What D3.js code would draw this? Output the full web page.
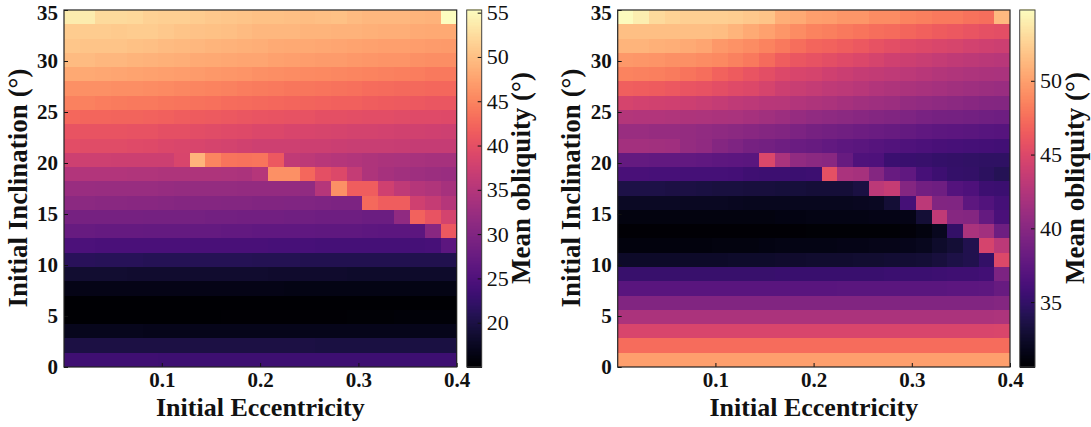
<!DOCTYPE html>
<html><head><meta charset="utf-8">
<script src="https://cdn.jsdelivr.net/npm/d3@7"></script>
<style>html,body{margin:0;padding:0;background:#fff}svg{display:block}text{font-family:"Liberation Serif",serif;fill:#111}</style>
</head><body><svg id="c" width="1091" height="427"></svg>
<script>
const xTicks=[0.1,0.2,0.3,0.4];
const yTicks=[0,5,10,15,20,25,30,35];
const barTicksLeft=[20,25,30,35,40,45,50,55];
const barTicksRight=[35,40,45,50];
const barDomainLeft=[15,55.3];
const barDomainRight=[30.6,54.8];
const xLabel="Initial Eccentricity", yLabel="Initial Inclination (°)", barLabel="Mean obliquity (°)";
// rows listed top (i≈35°) to bottom (i≈0°), columns e≈0 to e≈0.4
const obliquityLeft=[
[53.8,53.8,52.3,52.2,52,51.5,51.3,51.3,51,50.7,50.5,50.3,50,50,49.8,49.7,49.8,50,49.5,49.3,49.3,49.2,49,48.8,55.3],
[51,51,51,50.8,51,51,50.7,50.3,50.2,50,49.8,49.5,49.2,49.2,49.3,49,49,48.8,48.8,48.6,48.4,48.4,48.2,48,48],
[50.5,50.4,50.3,50.3,50,49.8,49.6,49.4,49.2,49,48.8,48.6,48.4,48.2,48,48,47.8,47.6,47.5,47.3,47.2,47.2,47,46.8,46.7],
[49.5,49.5,49.3,49.2,49,48.8,48.6,48.4,48.2,48,47.8,47.7,47.6,47.4,47.2,47,46.9,46.8,46.6,46.4,46.3,46.2,46,45.8,45.7],
[48,48,47.8,47.7,47.5,47.4,47.2,47,46.8,46.6,46.4,46.2,46,45.8,45.6,45.4,45.3,45.2,45,44.8,44.6,44.5,44.3,44.1,44],
[46,46,45.9,45.8,45.7,45.6,45.4,45.2,45,44.8,44.6,44.4,44.2,44,43.8,43.7,43.6,43.4,43.2,43,42.8,42.7,42.6,42.5,42.4],
[44.6,44.6,44.4,44.2,44,44,43.8,43.6,43.4,43.2,43,42.8,42.6,42.4,42.3,42.2,42,41.9,41.8,41.6,41.4,41.2,41,40.8,40.7],
[42.4,42.3,42.3,42.2,42.1,42,41.8,41.6,41.4,41.2,41,40.8,40.6,40.4,40.3,40.2,40,39.9,39.8,39.7,39.6,39.5,39.4,39.3,39.2],
[40.5,40.5,40.4,40.4,40.3,40.2,40,39.9,39.7,39.5,39.3,39.1,38.9,38.8,38.6,38.5,38.4,38.2,38.1,38,37.9,37.8,37.7,37.6,37.5],
[39.6,39.5,39.5,39.5,39.4,39.2,38.9,38.7,38.5,38.2,38,37.8,37.5,37.5,37.4,37.3,37.2,37.1,37,37,36.9,36.8,36.7,36.7,36.6],
[37.5,37.4,37.4,37.3,37.2,37.2,37.2,38.5,49,45,43.6,43.4,43.6,41,36.2,35.8,35.4,35,34.8,34.5,34.2,34,33.8,33.6,33.6],
[34.8,34.8,34.7,34.7,34.6,34.6,34.5,34.5,34.4,34.4,34.3,34.2,35,46,46,42.5,40,39,36.5,34.5,33.6,33.2,32.8,32.5,32.4],
[32.4,32.4,32.3,32.3,32.2,32.2,32.1,32,32,31.9,31.9,31.8,31.8,31.7,31.7,31.6,35,46,41.5,41.5,37.6,36,35,34.6,33.7],
[30.9,30.9,30.8,30.8,30.7,30.6,30.5,30.4,30.3,30.3,30.2,30.2,30,30,29.9,29.8,29.7,29.6,29.6,42.7,41.6,41.6,37.6,36.6,35],
[29,29,29,28.9,28.9,28.8,28.8,28.7,28.7,28.6,28.6,28.5,28.4,28.4,28.3,28.3,28.2,28.2,28.1,27.9,27.8,31.5,42,40.5,38],
[27.3,27.3,27.2,27.2,27.2,27.1,27.1,27,27,27,26.9,26.9,26.8,26.8,26.7,26.7,26.6,26.6,26.5,26.4,26.3,26.2,26.2,30.6,41],
[24.7,24.7,24.6,24.6,24.6,24.5,24.5,24.5,24.4,24.4,24.3,24.3,24.3,24.2,24.2,24.2,24.1,24.1,24.1,24,24,24,24,24.2,26.3],
[21.3,21.3,21.2,21.2,21.2,21.1,21.1,21.1,21,21,21,21,20.9,20.9,20.9,20.8,20.8,20.8,20.8,20.7,20.7,20.7,20.6,20.6,20.6],
[18.7,18.7,18.7,18.7,18.6,18.6,18.6,18.6,18.5,18.5,18.5,18.5,18.5,18.4,18.4,18.4,18.4,18.4,18.3,18.3,18.3,18.3,18.3,18.3,18.3],
[16.7,16.7,16.7,16.7,16.7,16.7,16.6,16.6,16.6,16.6,16.6,16.6,16.6,16.6,16.5,16.5,16.5,16.5,16.5,16.5,16.5,16.5,16.5,16.5,16.5],
[15.1,15.1,15.1,15.1,15.1,15.1,15.1,15.1,15.1,15.1,15.1,15.1,15.1,15.1,15.1,15.1,15.1,15.1,15.1,15.1,15.1,15.1,15.1,15.1,15.1],
[15.1,15.1,15.1,15.1,15.1,15.1,15.1,15.1,15.1,15.1,15.2,15.2,15.2,15.2,15.3,15.3,15.3,15.3,15.4,15.4,15.4,15.5,15.5,15.5,15.5],
[17.1,17.1,17.1,17.1,17.1,17,17,17,17,17,17,17,17,17,17,17,17,17,17,17,17,17,17,17,17],
[20,20,20,20,20,19.9,19.9,19.9,19.9,19.9,19.9,19.9,19.9,19.9,19.9,19.9,19.8,19.8,19.8,19.8,19.8,19.8,19.8,19.8,19.8],
[23.4,23.4,23.4,23.4,23.4,23.4,23.3,23.3,23.3,23.3,23.3,23.3,23.3,23.3,23.3,23.3,23.3,23.2,23.2,23.2,23.2,23.2,23.2,23.2,23.2]
];
const obliquityRight=[
[54.7,54,53,52.6,52.4,52.4,52.4,52.3,52,51.8,50.7,50.5,49.9,49.8,49.5,49.5,49,49,48.5,48.3,48,48,47.7,47.5,51.3],
[51.5,51.5,51.5,51.5,51.5,51.5,51.4,51,50.5,50,49.5,49,48.5,48.3,48,47.8,47.5,47.3,47,46.7,46.4,46.2,46,45.7,45.5],
[51,51,50.8,50.7,50.5,50.2,49.6,49.3,49,48.5,48,47.5,47,46.8,46.5,46.2,45.8,45.5,45.2,45,44.8,44.6,44.4,44.2,44],
[49.6,49.5,49.4,49.2,49.2,49,48.8,48.4,48,47.3,46.5,46.1,45.8,45.5,45.2,44.9,44.5,44.2,44,43.8,43.5,43.3,43.1,42.9,42.8],
[48.5,48.4,48.3,48.1,47.8,47.5,46.8,46.4,46,45.5,45,44.7,44.5,44.2,43.9,43.6,43.4,43.2,43,42.8,42.6,42.4,42.2,42.1,42],
[46.6,46.5,46.4,46.2,46,45.8,45.5,45.2,45,44.5,44,43.8,43.5,43.2,43,42.8,42.5,42.3,42.1,41.9,41.7,41.5,41.3,41.1,41],
[44.5,44.4,44.3,44.2,44,43.8,43.5,43.2,43,42.8,42.7,42.5,42.3,42.1,41.8,41.5,41.3,41.1,40.8,40.6,40.4,40.2,40,39.8,39.7],
[42.6,42.5,42.5,42.4,42.3,42.2,42.1,42,41.8,41.5,41.2,40.9,40.6,40.4,40.2,40,39.8,39.6,39.4,39.2,39,38.9,38.8,38.6,38.5],
[41,41,40.9,40.9,40.8,40.6,40.4,40.2,40,39.8,39.6,39.3,39,38.8,38.6,38.4,38.2,38,37.8,37.6,37.5,37.4,37.3,37.1,37],
[41.6,41.6,41.5,41.4,40.8,40.5,39.8,39.4,39,38.8,38.5,38.2,38,37.7,37.5,37.3,37,36.8,36.6,36.4,36.2,36.1,36,35.9,35.8],
[37.8,37.8,37.7,37.7,37.7,37.6,37.5,37.4,37.3,44.9,42,40.6,40.2,40,38,36.6,36.5,35.5,35.4,35.3,35.1,35,34.9,34.8,34.8],
[36.2,36.2,36.1,36.1,36,36,36,35.9,35.7,35.6,35.6,35.5,35.6,45.7,42,41.8,39.8,38,37.6,36.1,35.6,35.1,35,34.6,34.2],
[33.7,33.7,33.7,33.6,33.6,33.5,33.4,33.4,33.3,33.3,33.2,33.2,33.1,33.1,33.1,33.5,43,43.6,39.8,38.7,38.5,36.9,36.5,35.6,35.5],
[32.3,32.3,32.3,32.3,32.2,32.2,32.2,32.1,32,32,32,32,32,32,32,32.1,32.2,33,36,43,39.6,39.5,37.5,36.8,36],
[31.3,31.3,31.3,31.3,31.3,31.3,31.3,31.3,31.3,31.3,31.4,31.4,31.5,31.5,31.5,31.5,31.6,31.6,31.6,33,43.3,39.9,39.8,37.8,36.3],
[30.7,30.7,30.7,30.7,30.7,30.7,30.7,30.7,30.7,30.7,30.7,30.7,30.8,30.8,30.8,30.8,30.8,30.8,31,31.3,32,35,42,41.5,38.5],
[31.2,31.2,31.2,31.2,31.2,31.2,31.3,31.3,31.3,31.4,31.5,31.5,31.5,31.5,31.6,31.6,31.7,31.7,31.8,32,32.5,33,34,44.5,43],
[32.4,32.4,32.4,32.4,32.4,32.4,32.4,32.5,32.5,32.5,32.6,32.6,32.7,32.7,32.7,32.8,32.8,32.9,32.9,33,33.3,33.7,34,35,45],
[35.3,35.3,35.3,35.3,35.3,35.3,35.3,35.3,35.3,35.3,35.4,35.4,35.4,35.4,35.4,35.4,35.4,35.5,35.5,35.5,35.6,35.7,35.7,35.8,39.3],
[37.2,37.2,37.2,37.2,37.2,37.2,37.2,37.2,37.2,37.2,37.2,37.2,37.2,37.2,37.3,37.3,37.3,37.3,37.3,37.3,37.3,37.4,37.4,37.5,38],
[39.6,39.6,39.6,39.6,39.6,39.6,39.6,39.6,39.6,39.6,39.6,39.6,39.6,39.6,39.6,39.6,39.6,39.6,39.6,39.6,39.6,39.6,39.6,39.6,39.8],
[42.1,42.1,42.1,42.1,42.1,42.1,42.1,42.1,42.1,42.1,42.1,42.1,42.1,42.1,42.1,42.1,42.1,42.1,42.1,42.1,42.1,42.1,42.1,42.1,42.2],
[44.7,44.7,44.7,44.7,44.7,44.7,44.7,44.7,44.7,44.7,44.7,44.7,44.7,44.7,44.7,44.7,44.7,44.7,44.7,44.7,44.7,44.7,44.7,44.7,44.8],
[47.4,47.4,47.4,47.4,47.4,47.4,47.4,47.4,47.4,47.4,47.4,47.4,47.4,47.4,47.4,47.4,47.4,47.4,47.4,47.4,47.4,47.4,47.4,47.4,47.4],
[49.9,49.9,49.9,49.9,49.9,49.9,49.9,49.9,49.9,49.9,49.9,49.9,49.9,49.9,49.9,49.9,49.9,49.9,49.9,49.9,49.9,49.9,49.9,49.9,49.9]
];
const svg=d3.select("#c");
const plotTop=10,plotBottom=367;
function panel(m,dom,barTicks,x0,x1,bar0,bar1,ylabX,barLabX){
  const x=d3.scaleLinear().domain([0.0005,0.4]).range([x0,x1]);
  const y=d3.scaleLinear().domain([0,35]).range([plotBottom,plotTop]);
  const bx=d3.scaleBand().domain(d3.range(25)).range([x0,x1]);
  const by=d3.scaleBand().domain(d3.range(25)).range([plotTop,plotBottom]);
  const col=d3.scaleSequential(d3.interpolateMagma).domain(dom);
  const g=svg.append("g").attr("shape-rendering","crispEdges");
  m.forEach((row,r)=>g.selectAll(null).data(row).enter().append("rect")
    .attr("x",(d,c)=>bx(c)).attr("y",by(r)).attr("width",bx.bandwidth()).attr("height",by.bandwidth())
    .attr("fill",d=>col(d)));
  const ax=svg.append("g").attr("transform",`translate(0,${plotBottom})`)
    .call(d3.axisBottom(x).tickValues(xTicks).tickFormat(d3.format(".1f")).tickSize(-4).tickPadding(5));
  const ay=svg.append("g").attr("transform",`translate(${x0},0)`)
    .call(d3.axisLeft(y).tickValues(yTicks).tickSize(-4).tickPadding(6));
  [ax,ay].forEach(a=>{a.select(".domain").remove();a.selectAll("line").attr("stroke","#111").attr("stroke-width",1);
    a.selectAll("text").attr("font-size",21).attr("font-weight","bold").style("font-family",'"Liberation Serif",serif').attr("fill","#111");});
  ay.selectAll("text").filter(d=>d===35).attr("dy","0.43em");
  svg.append("rect").attr("x",x0).attr("y",plotTop).attr("width",x1-x0).attr("height",plotBottom-plotTop).attr("fill","none").attr("stroke","#222").attr("stroke-width",1.2);
  // colorbar
  const by2=d3.scaleLinear().domain(dom).range([plotBottom,plotTop]);
  const steps=d3.range(0,256).map(i=>dom[0]+(dom[1]-dom[0])*i/255);
  const sb=svg.append("g").attr("shape-rendering","crispEdges");
  sb.selectAll("rect").data(steps).enter().append("rect").attr("x",bar0).attr("width",bar1-bar0)
    .attr("y",d=>by2(d)-(plotBottom-plotTop)/256).attr("height",(plotBottom-plotTop)/256+.5).attr("fill",d=>col(d));
  const ab=svg.append("g").attr("transform",`translate(${bar1},0)`)
    .call(d3.axisRight(by2).tickValues(barTicks).tickSize(-4).tickPadding(5));
  ab.select(".domain").remove();ab.selectAll("line").attr("stroke","#111");
  ab.selectAll("text").attr("font-size",22).style("font-family",'"Liberation Serif",serif').attr("fill","#111");
  svg.append("rect").attr("x",bar0).attr("y",plotTop).attr("width",bar1-bar0).attr("height",plotBottom-plotTop).attr("fill","none").attr("stroke","#444").attr("stroke-width",1);
  const lab=(s,tx,ty,rot,size)=>svg.append("text").attr("transform",`translate(${tx},${ty})${rot?" rotate(-90)":""}`)
    .attr("text-anchor","middle").attr("font-size",size).attr("font-weight","bold").text(s);
  lab(xLabel,(x0+x1)/2,415.5,false,26);
  lab(yLabel,ylabX,188,true,27);
  lab(barLabel,barLabX,178,true,27);
}
panel(obliquityLeft,barDomainLeft,barTicksLeft,64,456.7,466.7,481.7,27,530);
panel(obliquityRight,barDomainRight,barTicksRight,617.7,1010,1019.7,1035,580,1084);
</script></body></html>
